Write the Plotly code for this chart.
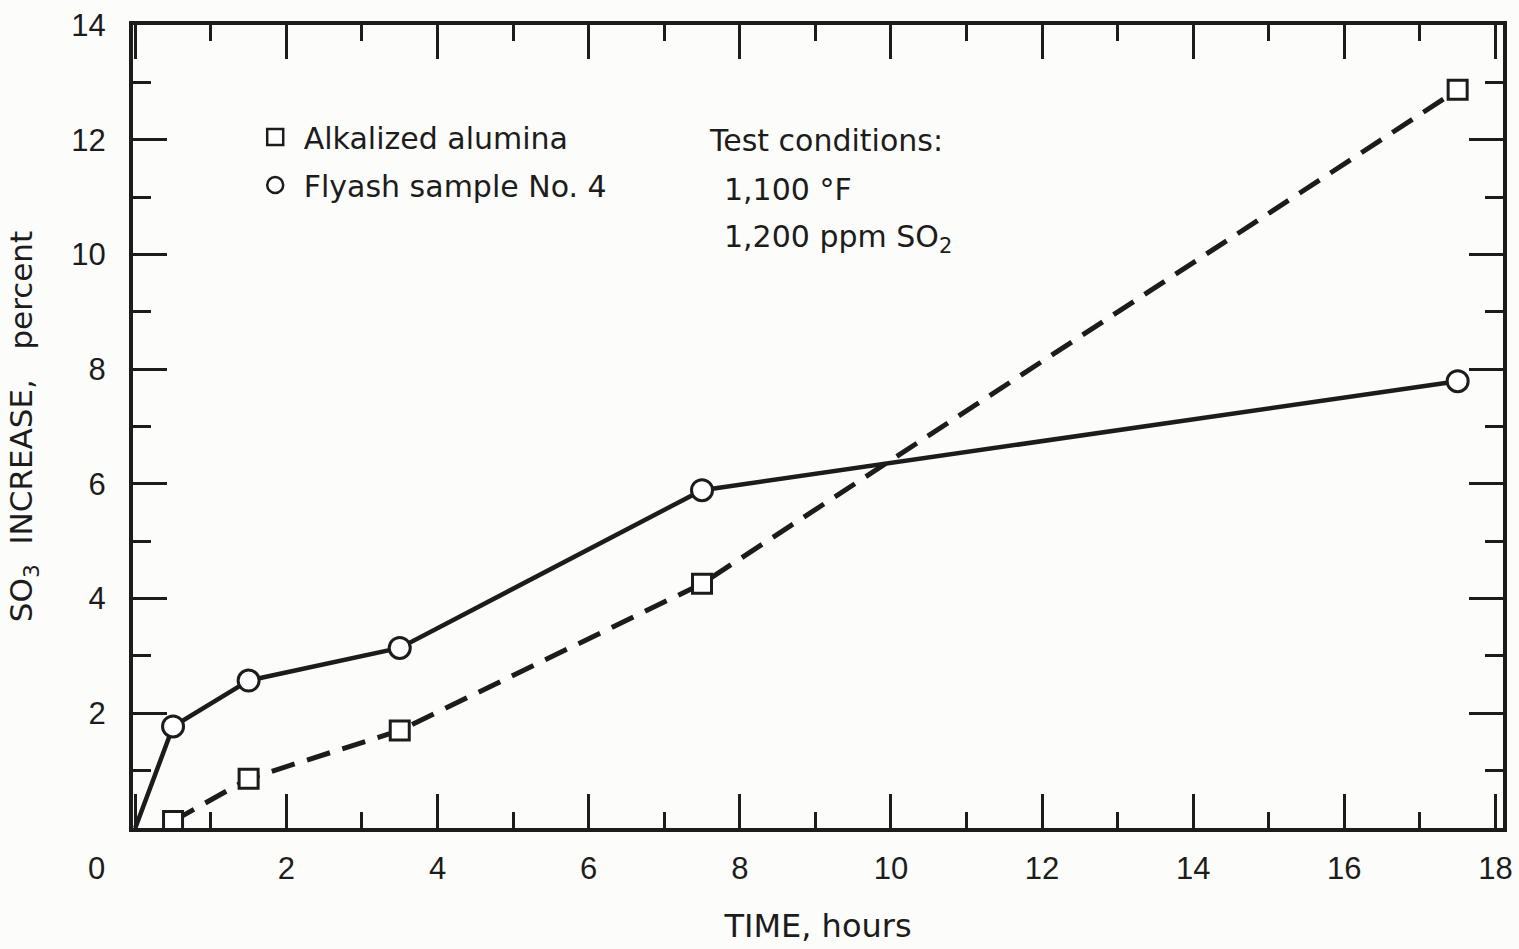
import plotly.graph_objects as go

# ---- data ----
time_alumina = [0.5, 1.5, 3.5, 7.5, 17.5]
so3_alumina = [0.12, 0.86, 1.70, 4.26, 12.87]

time_flyash = [0.0, 0.5, 1.5, 3.5, 7.5, 17.5]
so3_flyash = [0.0, 1.77, 2.57, 3.14, 5.89, 7.79]

x_major = [0, 2, 4, 6, 8, 10, 12, 14, 16, 18]
x_labels = ["", "2", "4", "6", "8", "10", "12", "14", "16", "18"]
y_major = [0, 2, 4, 6, 8, 10, 12, 14]
y_labels = ["", "2", "4", "6", "8", "10", "12", "14"]

INK = "#1c1c1c"
BG = "#fcfcfa"
TXT = "DejaVu Sans"
TICKF = "Liberation Sans Narrow, Liberation Sans"

fig = go.Figure()

# Alkalized alumina: dashed line with squares
fig.add_trace(go.Scatter(
    x=time_alumina, y=so3_alumina, mode="lines",
    line=dict(color=INK, width=5, dash="24px,13px"),
    showlegend=False, hoverinfo="skip"))
# Flyash: solid line from origin with circles
fig.add_trace(go.Scatter(
    x=time_flyash, y=so3_flyash, mode="lines",
    line=dict(color=INK, width=4.5),
    showlegend=False, hoverinfo="skip"))
fig.add_trace(go.Scatter(
    x=time_alumina, y=so3_alumina, mode="markers",
    marker=dict(symbol="square", size=19, color="white",
                line=dict(color=INK, width=3)),
    showlegend=False))
fig.add_trace(go.Scatter(
    x=time_flyash[1:], y=so3_flyash[1:], mode="markers",
    marker=dict(symbol="circle", size=21, color="white",
                line=dict(color=INK, width=3)),
    showlegend=False))

# legend entries (marker only)
fig.add_trace(go.Scatter(
    x=[None], y=[None], mode="markers", name="Alkalized alumina",
    legendgroup="a",
    marker=dict(symbol="square", size=17, color="white",
                line=dict(color=INK, width=2.5))))
fig.add_trace(go.Scatter(
    x=[None], y=[None], mode="markers", name="Flyash sample No. 4",
    legendgroup="b",
    marker=dict(symbol="circle", size=17, color="white",
                line=dict(color=INK, width=2.5))))

axis_common = dict(
    showline=True, linecolor=INK, linewidth=4, mirror="allticks",
    ticks="inside", ticklen=34, tickwidth=3, tickcolor=INK,
    showgrid=False, zeroline=False,
)

fig.update_xaxes(
    range=[-0.03, 18.1], tickmode="array", tickvals=x_major, ticktext=x_labels,
    tickfont=dict(family=TICKF, size=31, color=INK), ticklabelstandoff=10,
    minor=dict(ticks="inside", ticklen=16, tickwidth=3, tickcolor=INK, dtick=1, tick0=0),
    title=dict(text="TIME, hours", font=dict(family=TXT, size=32, color=INK), standoff=30),
    **axis_common)
fig.update_yaxes(
    range=[0, 14], tickmode="array", tickvals=y_major, ticktext=y_labels,
    tickfont=dict(family=TICKF, size=31, color=INK), ticklabelstandoff=17,
    minor=dict(ticks="inside", ticklen=18, tickwidth=3, tickcolor=INK, dtick=1, tick0=0),
    title=dict(text="SO<sub>3</sub>\u00a0 INCREASE,\u00a0\u00a0 percent",
               font=dict(family=TXT, size=31, color=INK), standoff=30),
    **axis_common)

# shared origin label "0"
fig.add_annotation(x=-0.0263, y=-0.05, xref="paper", yref="paper", text="0",
                   showarrow=False, xanchor="center", yanchor="middle",
                   font=dict(family=TICKF, size=31, color=INK))

# test conditions
cond_font = dict(family=TXT, size=30, color=INK)
fig.add_annotation(x=7.57, y=11.98, xref="x", yref="y", text="Test conditions:",
                   showarrow=False, xanchor="left", yanchor="middle", font=cond_font)
fig.add_annotation(x=7.77, y=11.13, xref="x", yref="y", text="1,100 °F",
                   showarrow=False, xanchor="left", yanchor="middle", font=cond_font)
fig.add_annotation(x=7.77, y=10.28, xref="x", yref="y", text="1,200 ppm SO<sub>2</sub>",
                   showarrow=False, xanchor="left", yanchor="middle", font=cond_font)

fig.update_layout(
    width=1519, height=949,
    margin=dict(l=133, r=16, t=25, b=121, autoexpand=False),
    paper_bgcolor=BG, plot_bgcolor=BG,
    showlegend=True,
    legend=dict(x=0.083, y=0.893, xanchor="left", yanchor="top",
                bgcolor="rgba(0,0,0,0)", font=dict(family=TXT, size=30, color=INK),
                traceorder="grouped", tracegroupgap=6, itemwidth=47),
)

fig.write_html("out.html")
